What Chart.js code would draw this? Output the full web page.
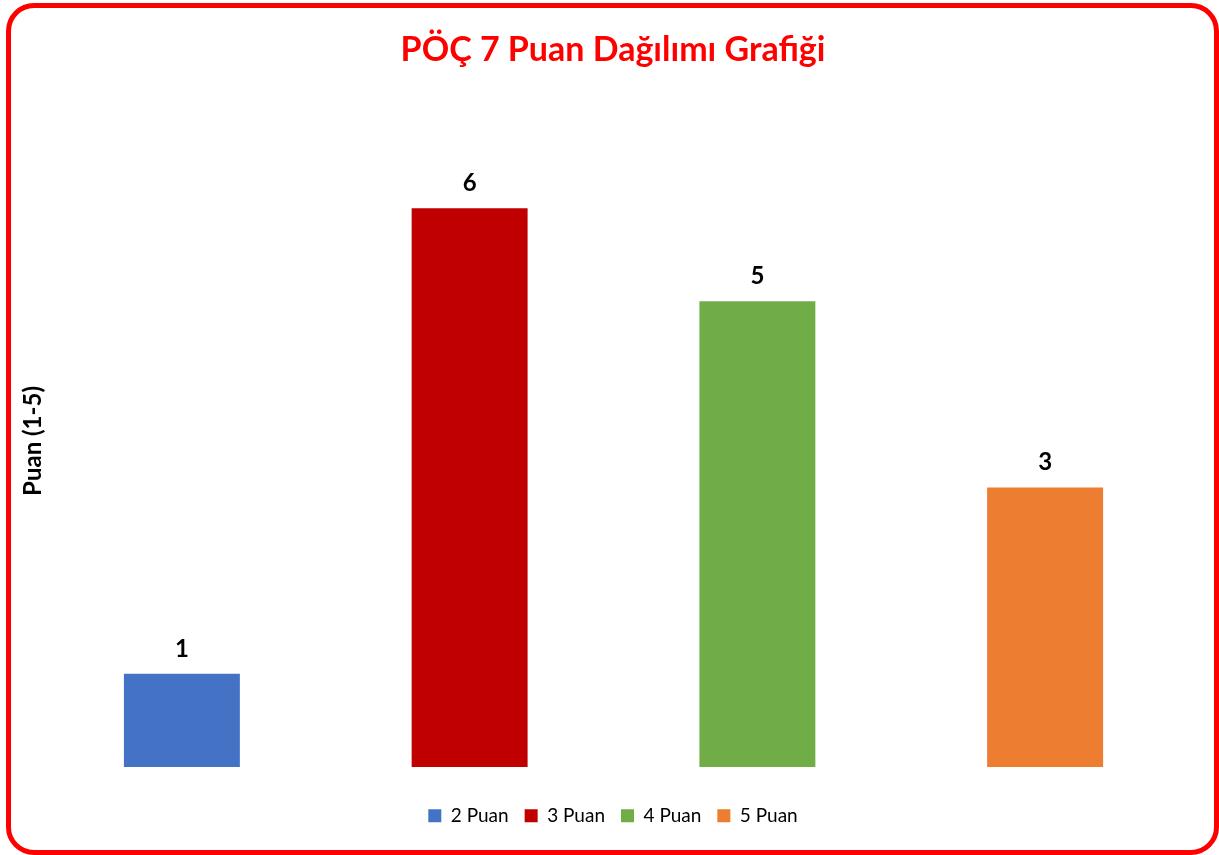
<!DOCTYPE html>
<html>
<head>
<meta charset="utf-8">
<script src="https://cdn.jsdelivr.net/npm/chart.js@4"></script>
<style>
  html, body { margin: 0; padding: 0; background: #fff; }
  #wrap { position: relative; width: 1219px; height: 855px; overflow: hidden; }
  #c { position: absolute; left: 0; top: 0; }
  #frame { position: absolute; left: 6px; top: 3px; width: 1213px; height: 852px; box-sizing: border-box;
           border: 5.5px solid #ff0000; border-radius: 28px; pointer-events: none; }
</style>
</head>
<body>
<div id="wrap">
  <canvas id="c" width="1219" height="855"></canvas>
  <div id="frame"></div>
</div>
<script>
const chartTitle = 'PÖÇ 7 Puan Dağılımı Grafiği';
const yAxisTitle = 'Puan (1-5)';
const categories = ['2 Puan', '3 Puan', '4 Puan', '5 Puan'];
const values = [1, 6, 5, 3];
const barColors = ['#4472C4', '#C00000', '#70AD47', '#ED7D31'];
const yMin = 0;
const yMax = 7;

const FONT = 'Lato, "Open Sans", sans-serif';

const valueLabels = {
  id: 'valueLabels',
  afterDatasetsDraw(chart) {
    const ctx = chart.ctx;
    const meta = chart.getDatasetMeta(0);
    ctx.save();
    ctx.font = 'bold 24px ' + FONT;
    ctx.fillStyle = '#000000';
    ctx.textAlign = 'center';
    ctx.textBaseline = 'middle';
    meta.data.forEach((bar, i) => {
      ctx.fillText(String(values[i]), bar.x, bar.y - 25);
    });
    ctx.restore();
  }
};

new Chart(document.getElementById('c'), {
  type: 'bar',
  data: {
    labels: categories,
    datasets: [{
      label: 'Puan',
      data: values,
      backgroundColor: barColors,
      borderWidth: 0,
      categoryPercentage: 1,
      barPercentage: 0.403
    }]
  },
  options: {
    responsive: false,
    animation: false,
    layout: { padding: { left: 7, right: 0, top: 0, bottom: 19.8 } },
    plugins: {
      title: {
        display: true,
        text: chartTitle,
        color: '#ff0000',
        font: { family: FONT, size: 34, weight: 'bold', lineHeight: 1.2 },
        padding: { top: 29.6, bottom: 44.6 }
      },
      legend: {
        display: true,
        position: 'bottom',
        onClick: null,
        labels: {
          color: '#111111',
          font: { family: FONT, size: 19 },
          boxWidth: 13,
          boxHeight: 13,
          padding: 16,
          generateLabels(chart) {
            return categories.map((c, i) => ({
              text: c,
              fillStyle: barColors[i],
              strokeStyle: barColors[i],
              lineWidth: 0,
              hidden: false,
              index: i
            }));
          }
        }
      },
      tooltip: { enabled: false }
    },
    scales: {
      x: {
        display: true,
        grid: { display: false, drawTicks: false },
        border: { display: false },
        ticks: { display: false },
        title: { display: true, text: ' ', font: { size: 10, lineHeight: 1.2 }, padding: { top: 11.3, bottom: 0 } }
      },
      y: {
        display: true,
        position: 'left',
        min: yMin,
        max: yMax,
        grid: { display: false, drawTicks: false },
        border: { display: false },
        ticks: { display: false },
        title: {
          display: true,
          text: yAxisTitle,
          color: '#000000',
          font: { family: FONT, size: 24, weight: 'bold', lineHeight: 0.4 },
          padding: { top: 21.2, bottom: 0.2 }
        }
      },
      y2: {
        type: 'linear',
        display: true,
        position: 'right',
        min: 0,
        max: 1,
        grid: { display: false, drawTicks: false },
        border: { display: false },
        ticks: { display: false },
        title: { display: true, text: ' ', font: { size: 10, lineHeight: 1 }, padding: { top: 10, bottom: 10 } }
      }
    }
  },
  plugins: [valueLabels]
});
</script>
</body>
</html>
